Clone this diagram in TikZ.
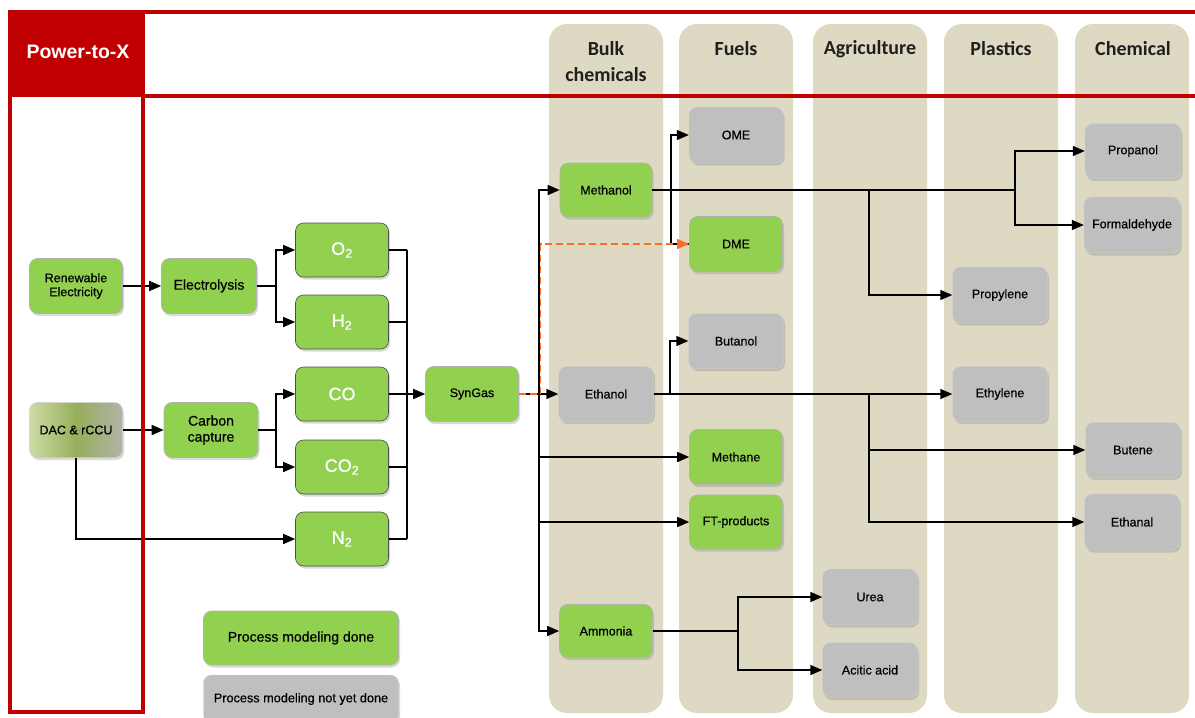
\documentclass[tikz,border=0pt]{standalone}
\usepackage{fontspec}
\setmainfont{Liberation Sans}
\newfontfamily\hdrfont{Carlito}
\newfontfamily\nodefont{Liberation Sans}[FakeBold=0.5]
\usetikzlibrary{arrows.meta,shadows,calc}
\definecolor{pgreen}{RGB}{146,208,80}
\definecolor{pgray}{RGB}{191,191,191}
\definecolor{beige}{RGB}{221,217,195}
\definecolor{pred}{RGB}{192,0,0}
\definecolor{porange}{RGB}{250,110,40}
\definecolor{dacL}{RGB}{205,220,165}
\definecolor{dacM}{RGB}{150,175,90}
\definecolor{dacR}{RGB}{178,178,168}
\begin{document}
\begin{tikzpicture}[x=1pt,y=-1pt,
  box/.style={rounded corners=8pt, minimum width=93pt, minimum height=55pt, inner sep=1pt, align=center,
    font=\nodefont\fontsize{12.5}{14}\selectfont,
    drop shadow={opacity=0.3, shadow xshift=1.5pt, shadow yshift=-2.5pt}},
  done/.style={box, fill=pgreen, draw=black!30, line width=0.6pt},
  todo/.style={box, fill=pgray, draw=black!18, line width=0.4pt},
  gas/.style={done, draw=black!70, text=white, font=\nodefont\fontsize{18}{20}\selectfont},
  big/.style={font=\nodefont\fontsize{14}{16}\selectfont},
  conn/.style={line width=1.5pt, black},
  arr/.style={conn, -{Triangle[length=12pt,width=10pt]}},
  col/.style={fill=beige, rounded corners=18pt},
  hdr/.style={font=\hdrfont\bfseries\fontsize{20}{26}\selectfont, align=center, text=black!88},
  frame/.style={pred, line width=4pt}
]
\useasboundingbox (0,0) rectangle (1195,718);
\clip (0,0) rectangle (1195,718);

% columns
\fill[col] (549,24) rectangle (663,713);
\fill[col] (679,24) rectangle (793,713);
\fill[col] (813,24) rectangle (927,713);
\fill[col] (944,24) rectangle (1058,713);
\fill[col] (1075,24) rectangle (1189,713);
\node[hdr] (hb) at (606,62) {Bulk\\chemicals};
\node[hdr] (hf) at (736,49) {Fuels};
\node[hdr] (ha) at (870,49) {Agriculture};
\node[hdr] (hp) at (1001,49) {Plastics};
\node[hdr] (hc) at (1133,49) {Chemical};

% header frame
\fill[pred] (8,10) rectangle (145,97);
\node[text=white, font=\bfseries\fontsize{19.5}{22}\selectfont] (ptx) at (78,52) {Power-to-X};
\draw[frame] (8,12) -- (1195,12);
\draw[frame] (145,96) -- (1195,96);

% nodes
\node[done] (ren) at (76,286) {Renewable\\Electricity};
\node[box, left color=dacL, right color=dacR, middle color=dacM, draw=black!20, line width=0.5pt] (dac) at (76,430) {DAC \& rCCU};
\node[done, big, minimum width=95pt] (ely) at (209,286) {Electrolysis};
\node[done, big, minimum width=94pt] (cc) at (211,430) {Carbon\\capture};
\node[gas, minimum height=54pt] (o2) at (342,250) {O\textsubscript{2}};
\node[gas, minimum height=54pt] (h2) at (342,322) {H\textsubscript{2}};
\node[gas, minimum height=54pt] (co) at (342,394) {CO};
\node[gas, minimum height=54pt] (co2) at (342,467) {CO\textsubscript{2}};
\node[gas, minimum height=54pt] (n2) at (342,539) {N\textsubscript{2}};
\node[done] (syn) at (472,394) {SynGas};
\node[done, minimum width=92pt, minimum height=54pt] (meth) at (606,190) {Methanol};
\node[todo, minimum width=95pt] (eth) at (606,394) {Ethanol};
\node[done, minimum height=53pt] (amm) at (606,631) {Ammonia};
\node[todo, minimum width=94pt, minimum height=56pt] (ome) at (736,135) {OME};
\node[done] (dme) at (736,244) {DME};
\node[todo, minimum width=95pt] (but) at (736,341) {Butanol};
\node[done] (methane) at (736,457) {Methane};
\node[done, minimum height=54pt] (ft) at (736,522) {FT-products};
\node[todo, minimum width=95pt, minimum height=56pt] (urea) at (870,597) {Urea};
\node[todo, minimum width=95pt] (acid) at (870,670) {Acitic acid};
\node[todo, minimum width=95pt, minimum height=56pt] (propyl) at (1000,295) {Propylene};
\node[todo, minimum width=95pt] (ethyl) at (1000,394) {Ethylene};
\node[todo, minimum width=96pt] (propan) at (1133,151) {Propanol};
\node[todo, minimum width=96pt, minimum height=56pt] (form) at (1132,225) {Formaldehyde};
\node[todo, minimum width=95pt] (butene) at (1133,450) {Butene};
\node[todo, minimum width=95pt, minimum height=56pt] (ethanal) at (1132,522) {Ethanal};
\node[done, minimum width=195pt, minimum height=54pt, font=\nodefont\fontsize{14}{16}\selectfont] (leg1) at (301,638) {Process modeling done};
\node[todo, minimum width=195pt, minimum height=48pt, font=\nodefont\fontsize{12.7}{15}\selectfont] (leg2) at (301,699) {Process modeling not yet done};

% junctions
\coordinate (jE) at (276,286);
\coordinate (jC) at (276,430);
\coordinate (jG1) at (407,250);
\coordinate (jG2) at (407,539);
\coordinate (jS) at (539,394);
\coordinate (jSo) at (540.5,394);
\coordinate (jM1) at (671,190);
\coordinate (jM2) at (869,190);
\coordinate (jM3) at (1015,190);
\coordinate (jT1) at (670,394);
\coordinate (jT2) at (869,394);
\coordinate (jA) at (738,631);

% connectors left
\draw[arr] (ren.east) -- (ely.west);
\draw[arr] (dac.east) -- (cc.west);
\draw[arr] (dac.south) |- (n2.west);
\draw[conn] (ely.east) -- (jE);
\draw[arr] (jE) |- (o2.west);
\draw[arr] (jE) |- (h2.west);
\draw[conn] (cc.east) -- (jC);
\draw[arr] (jC) |- (co.west);
\draw[arr] (jC) |- (co2.west);
\draw[conn] (o2.east) -- (o2.east -| jG1);
\draw[conn] (h2.east) -- (h2.east -| jG1);
\draw[conn] (co2.east) -- (co2.east -| jG1);
\draw[conn] (n2.east) -- (n2.east -| jG1);
\draw[conn] (jG1) -- (jG2);
\draw[arr] (co.east) -- (syn.west);

% syngas bus
\draw[conn] (syn.east) -- (jS);
\draw[arr] (jS) |- (meth.west);
\draw[arr] (jS) -- (eth.west);
\draw[arr] (jS) |- (methane.west);
\draw[arr] (jS) |- (ft.west);
\draw[arr] (jS) |- (amm.west);

% methanol
\draw[conn] (meth.east) -- (jM3);
\draw[arr] (jM1) |- (ome.west);
\draw[conn] (jM1) |- (dme.west);
\draw[arr] (jM2) |- (propyl.west);
\draw[arr] (jM3) |- (propan.west);
\draw[arr] (jM3) |- (form.west);

% orange dashed
\draw[porange, line width=1.5pt, dash pattern=on 7pt off 4pt, -{Triangle[length=12pt,width=10pt]}] (syn.east) -- (jSo) |- (dme.west);

% ethanol
\draw[arr] (eth.east) -- (ethyl.west);
\draw[arr] (jT1) |- (but.west);
\draw[arr] (jT2) |- (butene.west);
\draw[arr] (jT2) |- (ethanal.west);

% ammonia
\draw[conn] (amm.east) -- (jA);
\draw[arr] (jA) |- (urea.west);
\draw[arr] (jA) |- (acid.west);

% left frame
\draw[frame] (10,97) -- (10,712) -- (143,712) -- (143,97);
\end{tikzpicture}
\end{document}
